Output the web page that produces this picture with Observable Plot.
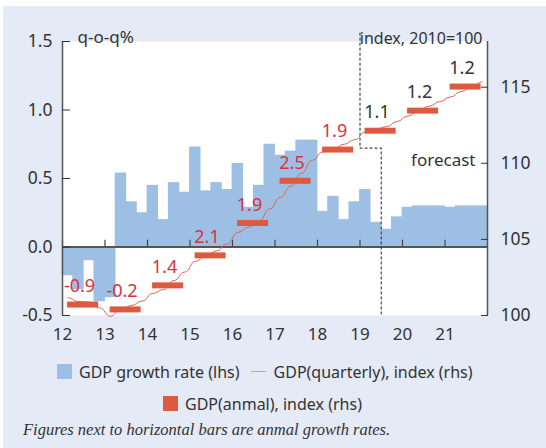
<!DOCTYPE html>
<html><head><meta charset="utf-8">
<script src="https://cdn.jsdelivr.net/npm/d3@7"></script>
<script src="https://cdn.jsdelivr.net/npm/@observablehq/plot@0.6"></script>
<style>
body{margin:0;background:#fff;width:546px;height:448px;overflow:hidden;font-family:"Noto Sans",sans-serif;color:#333;position:relative}
#panel{position:absolute;left:3px;top:6px;width:543px;height:442px;background:#e4eaf6}
#chart{position:absolute;left:0;top:0}
.row{position:absolute;display:flex;align-items:center;height:15px;font-size:16px;white-space:nowrap;color:#333}
.sq{width:15px;height:15px;display:inline-block;margin-right:7px}
.ln{width:15px;height:1.5px;display:inline-block;background:#e8958a;margin:0 8px 0 11px}
#note{position:absolute;left:23px;top:420px;font-family:"Liberation Serif",serif;font-style:italic;font-size:16.5px;color:#333;white-space:nowrap}
</style></head>
<body>
<div id="panel"></div>
<div id="chart"></div>
<div class="row" style="left:57px;top:364px"><span class="sq" style="background:#9dbfe3"></span>GDP growth rate (lhs)<span class="ln"></span>GDP(quarterly), index (rhs)</div>
<div class="row" style="left:163px;top:396px"><span class="sq" style="background:#dc5a3f"></span>GDP(anmal), index (rhs)</div>
<div id="note">Figures next to horizontal bars are anmal growth rates.</div>
<script>
const years = [2012, 2013, 2014, 2015, 2016, 2017, 2018, 2019, 2020, 2021];
// q-o-q growth, %, 2012Q1 .. 2021Q4 (lhs)
const quarterGrowth = [
  -0.21, -0.31, -0.10, -0.40,
  -0.37, 0.54, 0.33, 0.25,
  0.45, 0.20, 0.47, 0.40,
  0.73, 0.41, 0.47, 0.42,
  0.61, 0.29, 0.45, 0.75,
  0.67, 0.70, 0.78, 0.78,
  0.26, 0.37, 0.20, 0.33,
  0.42, 0.18, 0.13, 0.22,
  0.29, 0.30, 0.30, 0.30,
  0.29, 0.30, 0.30, 0.30
];
// quarterly GDP index, 2010=100 (rhs)
const quarterIndex = [
  101.17, 100.92, 100.88, 100.50,
  99.95, 100.40, 100.66, 100.95,
  101.45, 101.70, 102.30, 102.85,
  103.55, 103.90, 104.25, 104.70,
  105.45, 105.80, 106.20, 107.00,
  107.75, 108.50, 109.35, 110.20,
  110.75, 110.95, 111.25, 111.55,
  112.05, 112.25, 112.40, 112.75,
  113.10, 113.45, 113.75, 114.05,
  114.35, 114.70, 115.00, 115.35
];
// annual GDP index (rhs) and annual growth labels
const annualIndex = [100.72, 100.40, 101.98, 103.95, 106.08, 108.85, 110.90, 112.14, 113.46, 115.04];
const annualGrowth = ["-0.9", "-0.2", "1.4", "2.1", "1.9", "2.5", "1.9", "1.1", "1.2", "1.2"];
const forecastFromYear = 2019;
const forecastFromQuarter = 2019.5;
const forecastStepIndex = 111;
const forecastTopIndex = 118.55;
const lhsTicks = [-0.5, 0, 0.5, 1.0, 1.5];
const rhsTicks = [100, 105, 110, 115];
const xTickLabels = ["12", "13", "14", "15", "16", "17", "18", "19", "20", "21"];
const lhsDomain = [-0.5, 1.5];
const rhsDomain = [100, 118];

const toL = d3.scaleLinear(rhsDomain, lhsDomain);
const quarters = quarterGrowth.map((g, i) => ({
  x1: years[0] + i / 4, x2: years[0] + (i + 1) / 4, xm: years[0] + (i + 0.5) / 4,
  g, idx: quarterIndex[i]
}));
const annual = years.map((y, i) => ({year: y, idx: annualIndex[i], label: annualGrowth[i], forecast: y >= forecastFromYear}));
const boundary = [
  {x: forecastFromYear, v: forecastTopIndex},
  {x: forecastFromYear, v: forecastStepIndex},
  {x: forecastFromQuarter, v: forecastStepIndex},
  {x: forecastFromQuarter, v: rhsDomain[0]}
];
const textColor = "#333";
const red = "#d8323c";

const chart = Plot.plot({
  width: 546, height: 350,
  marginLeft: 62, marginRight: 59, marginTop: 41, marginBottom: 35,
  style: {background: "transparent", fontFamily: "Noto Sans", fontSize: "17px", color: textColor, overflow: "visible"},
  x: {domain: [2012, 2022], axis: null},
  y: {domain: lhsDomain, axis: null},
  marks: [
    Plot.frame({fill: "white", stroke: "none"}),
    Plot.rectY(quarters, {x1: "x1", x2: "x2", y1: 0, y2: "g", fill: "#9dbfe3", insetLeft: -0.4, insetRight: -0.4}),
    Plot.ruleY([0], {stroke: "#555", strokeWidth: 2}),
    Plot.ruleX(years, {x: d => d, y1: 0, y2: 0.05, stroke: "#444", strokeWidth: 1.2}),
    Plot.ruleX([2012, 2022], {x: d => d, stroke: "#555", strokeWidth: 1.5}),
    Plot.axisY(lhsTicks, {anchor: "left", tickSize: -8, tickPadding: 18, tickFormat: d => d.toFixed(1), label: null, fontSize: 17.5}),
    Plot.axisY(rhsTicks.map(toL), {anchor: "right", tickSize: -7, tickPadding: 20, tickFormat: d => String(Math.round(toL.invert(d))), label: null, fontSize: 17.5}),
    Plot.axisX(years, {anchor: "bottom", tickSize: 0, tickPadding: 12, tickFormat: (d, i) => xTickLabels[years.indexOf(d)], label: null, fontSize: 17}),
    Plot.line(boundary, {x: "x", y: d => toL(d.v), stroke: "#444", strokeWidth: 1.2, strokeDasharray: "2,3"}),
    Plot.line(quarters, {x: "xm", y: d => toL(d.idx), curve: "bump-x", stroke: "#e4634f", strokeWidth: 1}),
    Plot.ruleY(annual, {y: d => toL(d.idx), x1: d => d.year + 0.12, x2: d => d.year + 0.85, stroke: "#dc5a3f", strokeWidth: 6}),
    Plot.text(annual.filter(d => !d.forecast), {x: d => d.year + 0.4, y: d => toL(d.idx), text: "label", dy: -18, fill: red, fontSize: 18}),
    Plot.text(annual.filter(d => d.forecast), {x: d => d.year + 0.4, y: d => toL(d.idx), text: "label", dy: -18, fill: textColor, fontSize: 18}),
    Plot.text(["forecast"], {x: 2022, y: toL(110), text: d => d, textAnchor: "end", dx: -12, dy: -3, fill: textColor}),
    Plot.text(["q-o-q%"], {frameAnchor: "top-left", text: d => d, textAnchor: "start", dx: 15, dy: -11, fill: textColor}),
    Plot.text(["index, 2010=100"], {frameAnchor: "top-right", text: d => d, textAnchor: "end", dx: -5, dy: -9, fill: textColor, fontSize: 16})
  ]
});
document.getElementById("chart").appendChild(chart);
</script>
</body></html>
